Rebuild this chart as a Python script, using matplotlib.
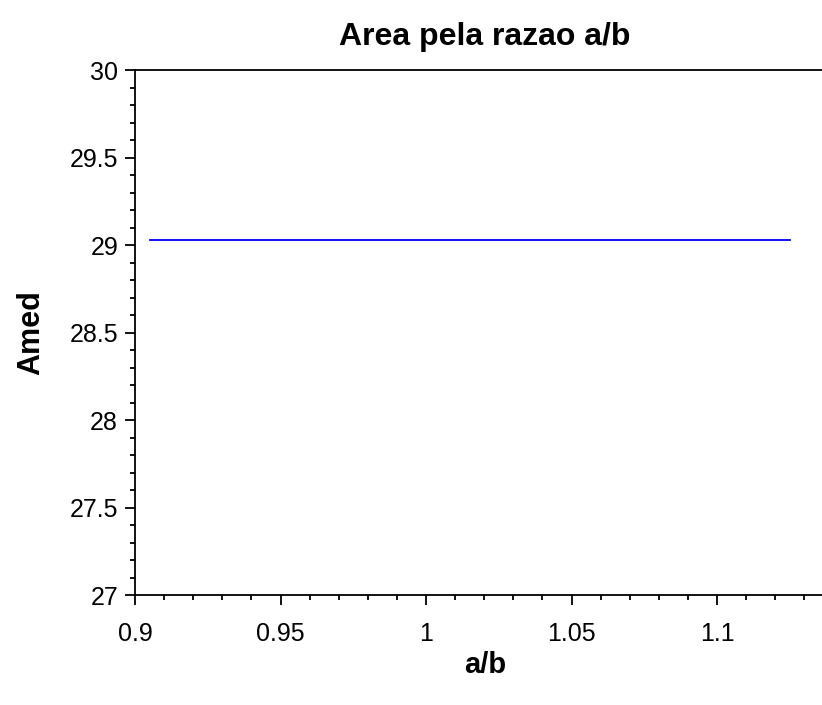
import matplotlib.pyplot as plt
from matplotlib.ticker import MultipleLocator, FuncFormatter

# --- dati ---
razao = [0.905, 0.96, 1.015, 1.07, 1.125]
area_med = [29.03, 29.03, 29.03, 29.03, 29.03]

x_ticks = [0.9, 0.95, 1.0, 1.05, 1.1]
y_ticks = [27, 27.5, 28, 28.5, 29, 29.5, 30]

plt.rcParams["font.family"] = ["Liberation Sans", "DejaVu Sans"]

fig = plt.figure(figsize=(8.22, 7.05), dpi=100)
ax = fig.add_axes([0.1642, 0.156, 0.8516, 0.7447])

ax.plot(razao, area_med, color="#0000ff", linewidth=1.3)

ax.set_xlim(0.9, 1.1405)
ax.set_ylim(27, 30)
ax.set_xticks(x_ticks)
ax.set_yticks(y_ticks)
ax.xaxis.set_minor_locator(MultipleLocator(0.01))
ax.yaxis.set_minor_locator(MultipleLocator(0.1))

fmt = FuncFormatter(lambda v, p: f"{v:g}")
ax.xaxis.set_major_formatter(fmt)
ax.yaxis.set_major_formatter(fmt)

for s in ax.spines.values():
    s.set_linewidth(1.3)
    s.set_color("black")

ax.tick_params(which="major", direction="out", length=7.2, width=1.3,
               labelsize=18, colors="black")
ax.tick_params(which="minor", direction="out", length=3.6, width=1.3)
ax.tick_params(axis="x", which="major", pad=12)
ax.tick_params(axis="y", which="major", pad=5)

ax.set_title("Area pela razao a/b", fontsize=23, fontweight="bold", pad=18)
ax.set_xlabel("a/b", fontsize=21, fontweight="bold", labelpad=4)
ax.set_ylabel("Amed", fontsize=22, fontweight="bold", labelpad=17)

fig.savefig("out.png", dpi=100)
